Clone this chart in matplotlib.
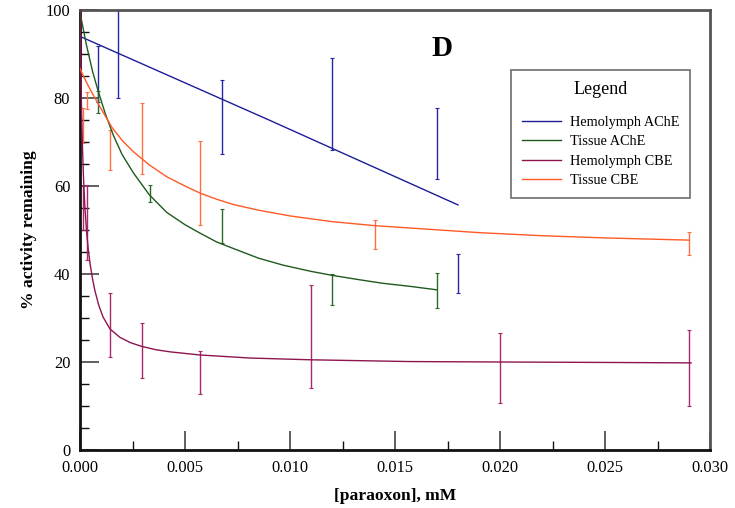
import matplotlib
matplotlib.use("Agg")
import matplotlib.pyplot as plt
from matplotlib.ticker import MultipleLocator, FormatStrFormatter

plt.rcParams['font.family'] = ['Liberation Serif', 'DejaVu Serif']

# ---- fitted inhibition curves (x in mM, y in % activity remaining) ----
hemo_ache_curve_x = [0.0, 0.009, 0.018]
hemo_ache_curve_y = [94.0, 75.0, 55.7]

tissue_ache_curve_x = [0.0, 0.00008, 0.0003, 0.0006, 0.00087, 0.0012, 0.00159, 0.002,
                       0.00254, 0.0033, 0.00413, 0.005, 0.00571, 0.0065, 0.0073,
                       0.0085, 0.00968, 0.011, 0.012, 0.0133, 0.0144, 0.0157, 0.017]
tissue_ache_curve_y = [100.0, 97.5, 92.2, 86.0, 81.5, 76.5, 71.5, 67.2,
                       63.0, 58.0, 54.0, 51.2, 49.3, 47.3, 45.8,
                       43.6, 42.0, 40.6, 39.7, 38.7, 37.9, 37.2, 36.4]

hemo_cbe_curve_x = [0.0, 0.00002, 0.00004, 0.00006, 0.00008, 0.00012, 0.00016, 0.0002,
                    0.00024, 0.00032, 0.0004, 0.00048, 0.0006, 0.00071, 0.0009, 0.0011,
                    0.00143, 0.0019, 0.0024, 0.0029, 0.0036, 0.0043, 0.0057, 0.0081,
                    0.011, 0.0157, 0.020, 0.025, 0.0291]
hemo_cbe_curve_y = [100.0, 92.3, 86.0, 80.6, 76.0, 68.6, 62.7, 58.4,
                    54.7, 49.2, 45.3, 42.3, 38.8, 36.2, 32.8, 30.2,
                    27.5, 25.6, 24.4, 23.6, 22.8, 22.3, 21.6, 20.9,
                    20.5, 20.1, 20.0, 19.9, 19.8]

tissue_cbe_curve_x = [0.0, 0.0002, 0.0005, 0.00095, 0.00151, 0.002, 0.00254, 0.0033,
                      0.00413, 0.005, 0.00571, 0.0065, 0.0073, 0.0085, 0.010, 0.012,
                      0.014, 0.0165, 0.019, 0.022, 0.025, 0.029]
tissue_cbe_curve_y = [86.7, 84.6, 81.8, 78.0, 73.4, 70.4, 67.8, 64.8,
                      62.1, 60.0, 58.4, 57.0, 55.8, 54.5, 53.2, 51.9,
                      51.0, 50.2, 49.4, 48.7, 48.2, 47.7]

# ---- measured means with error bars ----
hemo_ache_x = [0.00086, 0.00182, 0.00675, 0.01202, 0.01702, 0.01802]
hemo_ache_mean = [85.5, 90.0, 75.7, 78.7, 69.6, 40.1]
hemo_ache_err = [6.3, 10.0, 8.5, 10.5, 8.1, 4.5]

tissue_ache_x = [0.00086, 0.00333, 0.00675, 0.01202, 0.01702]
tissue_ache_mean = [79.0, 58.3, 50.9, 36.5, 36.2]
tissue_ache_err = [2.5, 1.9, 3.9, 3.5, 4.0]

hemo_cbe_x = [0.00016, 0.00033, 0.00143, 0.00294, 0.00571, 0.0110, 0.0200, 0.0290]
hemo_cbe_mean = [55.0, 51.7, 28.4, 22.6, 17.6, 25.9, 18.6, 18.6]
hemo_cbe_err = [5.0, 8.5, 7.3, 6.2, 4.9, 11.7, 8.0, 8.6]

tissue_cbe_x = [0.00013, 0.00033, 0.00143, 0.00294, 0.00571, 0.01405, 0.0290]
tissue_cbe_mean = [73.8, 79.4, 68.2, 70.8, 60.7, 49.0, 47.0]
tissue_cbe_err = [4.0, 2.0, 4.5, 8.1, 9.6, 3.3, 2.6]

labels = ["Hemolymph AChE", "Tissue AChE", "Hemolymph CBE", "Tissue CBE"]
colors = ["#1c1c9a", "#1f5a1f", "#8e1450", "#ff5a26"]
bar_colors = ["#2626a6", "#2c6a2c", "#a8286a", "#ff6f45"]

fig = plt.figure(figsize=(7.35, 5.08), dpi=100)
ax = fig.add_axes([80 / 735, 1 - 450 / 508, 630 / 735, 440 / 508])

curves = [(hemo_ache_curve_x, hemo_ache_curve_y),
          (tissue_ache_curve_x, tissue_ache_curve_y),
          (hemo_cbe_curve_x, hemo_cbe_curve_y),
          (tissue_cbe_curve_x, tissue_cbe_curve_y)]
points = [(hemo_ache_x, hemo_ache_mean, hemo_ache_err),
          (tissue_ache_x, tissue_ache_mean, tissue_ache_err),
          (hemo_cbe_x, hemo_cbe_mean, hemo_cbe_err),
          (tissue_cbe_x, tissue_cbe_mean, tissue_cbe_err)]

for (cx, cy), (px, pm, pe), lab, c, bc in zip(curves, points, labels, colors, bar_colors):
    ax.plot(cx, cy, color=c, lw=1.0, label=lab, zorder=3)
    ax.errorbar(px, pm, yerr=pe, fmt='none', ecolor=bc, elinewidth=1.0,
                capsize=1.2, capthick=0.8, zorder=2)

ax.set_xlim(0, 0.030)
ax.set_ylim(0, 100)
ax.xaxis.set_major_locator(MultipleLocator(0.005))
ax.xaxis.set_minor_locator(MultipleLocator(0.0025))
ax.xaxis.set_major_formatter(FormatStrFormatter('%.3f'))
ax.yaxis.set_major_locator(MultipleLocator(20))
ax.yaxis.set_minor_locator(MultipleLocator(5))

ax.tick_params(which='both', direction='in', top=False, right=False, labelsize=11.8)
ax.tick_params(which='major', length=14, width=1.2, color='#444444')
ax.tick_params(which='minor', length=6.5, width=1.0, color='#111111')
ax.tick_params(axis='x', which='major', pad=7)
ax.tick_params(axis='y', which='major', pad=7)

for side in ('left', 'bottom'):
    ax.spines[side].set_linewidth(2.0)
    ax.spines[side].set_color('#111111')
for side in ('top', 'right'):
    ax.spines[side].set_linewidth(2.0)
    ax.spines[side].set_color('#555555')

ax.set_xlabel("[paraoxon], mM", fontsize=12.6, fontweight='bold', labelpad=9)
ax.set_ylabel("% activity remaining", fontsize=12.6, fontweight='bold', labelpad=6)

ax.text(0.575, 0.912, "D", transform=ax.transAxes, fontsize=21, fontweight='bold',
        ha='center', va='center')

leg = ax.legend(loc='upper left', bbox_to_anchor=(0.684, 0.864), title="Legend",
                fontsize=10.3, title_fontsize=13, frameon=True, fancybox=False,
                edgecolor='#555555', handlelength=2.75, handletextpad=0.6,
                labelspacing=0.46, borderpad=0.75, borderaxespad=0)
leg.get_frame().set_linewidth(1.3)
leg._legend_box.sep = 13

fig.savefig("out.png", dpi=100)
